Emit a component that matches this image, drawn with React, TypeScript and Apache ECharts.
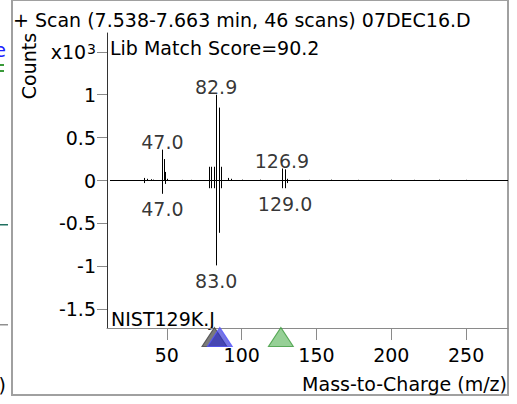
import React, { useEffect, useRef } from 'react';
import * as echarts from 'echarts';

// Sample spectrum (upper, x10^3 counts)
const sampleMz = [35, 37, 39.5, 41, 47, 48, 49, 50, 60, 66, 78.3, 79.6, 81.3, 82.9, 84.6, 86.3, 91, 92.7, 100, 112, 126.9, 128.8, 130.4, 145, 160, 178, 200, 215, 232, 250];
const sampleCounts = [0.03, 0.02, 0.015, 0.01, 0.36, 0.25, 0.1, 0.02, 0.008, 0.008, 0.16, 0.16, 0.16, 1.0, 0.85, 0.16, 0.03, 0.02, 0.01, 0.01, 0.14, 0.13, 0.02, 0.008, 0.01, 0.008, 0.01, 0.008, 0.01, 0.008];

// Library spectrum (lower, x10^3 counts, negative)
const libraryMz = [35, 47, 49, 78.3, 79.6, 81.3, 83.0, 84.6, 86.3, 127, 129, 130.4];
const libraryCounts = [-0.03, -0.155, -0.04, -0.09, -0.09, -0.09, -0.99, -0.61, -0.09, -0.09, -0.09, -0.03];

// Peak annotations
const upperLabelMz = [47.0, 82.9, 126.9];
const upperLabelCounts = [0.36, 1.0, 0.14];
const lowerLabelMz = [47.0, 83.0, 129.0];
const lowerLabelCounts = [-0.155, -0.99, -0.09];

// Axis ticks
const yTickValues = [-1.5, -1, -0.5, 0, 0.5, 1, 1.5];
const xTickValues = [50, 100, 150, 200, 250];

// Triangle markers on the m/z axis
const markerMz = [81.8, 85.4, 126.2];

const FONT = '"DejaVu Sans", Verdana, sans-serif';
const markerStyles = [
  { color: 'rgba(60,60,60,0.85)', borderColor: '#444' },
  { color: 'rgba(40,40,210,0.8)', borderColor: '#5555ff' },
  { color: 'rgba(100,185,100,0.85)', borderColor: '#3c9a3c' },
];

const stick = (_params: any, api: any) => {
  const x = api.value(0);
  const y = api.value(1);
  const p0 = api.coord([x, 0]);
  const p1 = api.coord([x, y]);
  const px = Math.round(p0[0]) + 0.5;
  return {
    type: 'line',
    shape: { x1: px, y1: p0[1], x2: px, y2: p1[1] },
    style: { stroke: '#000', lineWidth: 1 },
  };
};

export default function App() {
  const ref = useRef<HTMLDivElement>(null);
  useEffect(() => {
    if (!ref.current) return;
    const chart = echarts.init(ref.current, null, { renderer: 'svg' });
    const sampleData = sampleMz.map((m, i) => [m, sampleCounts[i]]);
    const libraryData = libraryMz.map((m, i) => [m, libraryCounts[i]]);
    const upperLabels = upperLabelMz.map((m, i) => [m, upperLabelCounts[i]]);
    const lowerLabels = lowerLabelMz.map((m, i) => [m, lowerLabelCounts[i]]);
    const yMin = -1.72;
    const yMax = 1.72;
    const option: any = {
      animation: false,
      textStyle: { fontFamily: FONT },
      grid: { left: 107, right: 9, top: 33, bottom: 76 },
      xAxis: {
        type: 'value',
        min: 10,
        max: 278,
        splitLine: { show: false },
        axisLine: { show: true, onZero: false, lineStyle: { color: '#8a8a8a', width: 1 } },
        axisTick: { show: true, customValues: xTickValues, length: 12, lineStyle: { color: '#8a8a8a' } },
        axisLabel: {
          customValues: xTickValues,
          color: '#000',
          fontSize: 19,
          fontFamily: FONT,
          margin: 17,
        },
      },
      yAxis: {
        type: 'value',
        min: yMin,
        max: yMax,
        splitLine: { show: false },
        axisLine: { show: true, onZero: false, lineStyle: { color: '#333', width: 1 } },
        axisTick: { show: true, customValues: yTickValues, length: 10, lineStyle: { color: '#8a8a8a' } },
        axisLabel: {
          customValues: yTickValues,
          color: '#000',
          fontSize: 19,
          fontFamily: FONT,
          margin: 11,
          formatter: (v: number) => (v === 1.5 ? '{a|x10}{b|3}' : String(v)),
          rich: {
            a: { fontSize: 19, fontFamily: FONT, color: '#000' },
            b: { fontSize: 14, fontFamily: FONT, color: '#000', verticalAlign: 'top', padding: [0, 0, 0, 1] },
          },
        },
      },
      series: [
        {
          type: 'line',
          data: [[12, 0], [278, 0]],
          symbol: 'none',
          lineStyle: { color: '#000', width: 1 },
          silent: true,
        },
        { type: 'custom', renderItem: stick, data: sampleData, encode: { x: 0, y: 1 }, silent: true },
        { type: 'custom', renderItem: stick, data: libraryData, encode: { x: 0, y: 1 }, silent: true },
        {
          type: 'scatter',
          data: upperLabels,
          symbolSize: 0,
          silent: true,
          label: {
            show: true,
            position: 'top',
            distance: -2,
            fontSize: 19,
            fontFamily: FONT,
            color: '#000',
            formatter: (p: any) => p.value[0].toFixed(1),
          },
        },
        {
          type: 'scatter',
          data: lowerLabels,
          symbolSize: 0,
          silent: true,
          label: {
            show: true,
            position: 'bottom',
            distance: 6,
            fontSize: 19,
            fontFamily: FONT,
            color: '#000',
            formatter: (p: any) => p.value[0].toFixed(1),
          },
        },
        {
          type: 'scatter',
          clip: false,
          silent: true,
          symbol: 'triangle',
          symbolSize: [25, 19],
          symbolOffset: [0, 9],
          data: markerMz.map((m, i) => ({
            value: [m, yMin],
            itemStyle: { color: markerStyles[i].color, borderColor: markerStyles[i].borderColor, borderWidth: 1 },
          })),
        },
      ],
      graphic: [
        {
          type: 'rect',
          silent: true,
          shape: { x: 12, y: 0, width: 496, height: 395 },
          style: { fill: 'none', stroke: '#a0a0a0', lineWidth: 2 },
        },
        { type: 'text', x: 6, y: 50, silent: true, style: { text: 'e', fill: '#2020ff', font: `19px ${FONT}`, align: 'right', verticalAlign: 'middle' } },
        { type: 'rect', silent: true, shape: { x: 0, y: 64, width: 4, height: 2 }, style: { fill: '#3a9a3a' } },
        { type: 'rect', silent: true, shape: { x: 0, y: 70, width: 4, height: 2 }, style: { fill: '#3a9a3a' } },
        { type: 'rect', silent: true, shape: { x: 0, y: 224, width: 8, height: 1.5 }, style: { fill: '#207060' } },
        { type: 'rect', silent: true, shape: { x: 0, y: 324, width: 8, height: 1.5 }, style: { fill: '#909090' } },
        { type: 'text', x: 6, y: 385, silent: true, style: { text: ')', fill: '#000', font: `19px ${FONT}`, align: 'right', verticalAlign: 'middle' } },
        {
          type: 'text', x: 13, y: 20, silent: true,
          style: { text: '+ Scan (7.538-7.663 min, 46 scans) 07DEC16.D', fill: '#000', font: `19px ${FONT}`, align: 'left', verticalAlign: 'middle' },
        },
        {
          type: 'text', x: 110, y: 47.5, silent: true,
          style: { text: 'Lib Match Score=90.2', fill: '#000', font: `19px ${FONT}`, align: 'left', verticalAlign: 'middle' },
        },
        {
          type: 'text', x: 29, y: 66, rotation: Math.PI / 2, silent: true,
          style: { text: 'Counts', fill: '#000', font: `19px ${FONT}`, align: 'center', verticalAlign: 'middle' },
        },
        {
          type: 'text', x: 111, y: 319, silent: true,
          style: { text: 'NIST129K.J', fill: '#000', font: `19px ${FONT}`, align: 'left', verticalAlign: 'middle' },
        },
        {
          type: 'text', x: 507, y: 384, silent: true,
          style: { text: 'Mass-to-Charge (m/z)', fill: '#000', font: `19px ${FONT}`, align: 'right', verticalAlign: 'middle' },
        },
      ],
    };
    chart.setOption(option);
    return () => chart.dispose();
  }, []);
  return (
    <div
      ref={ref}
      style={{ position: 'fixed', left: 0, top: 0, width: 517, height: 404, background: '#fff' }}
    />
  );
}
